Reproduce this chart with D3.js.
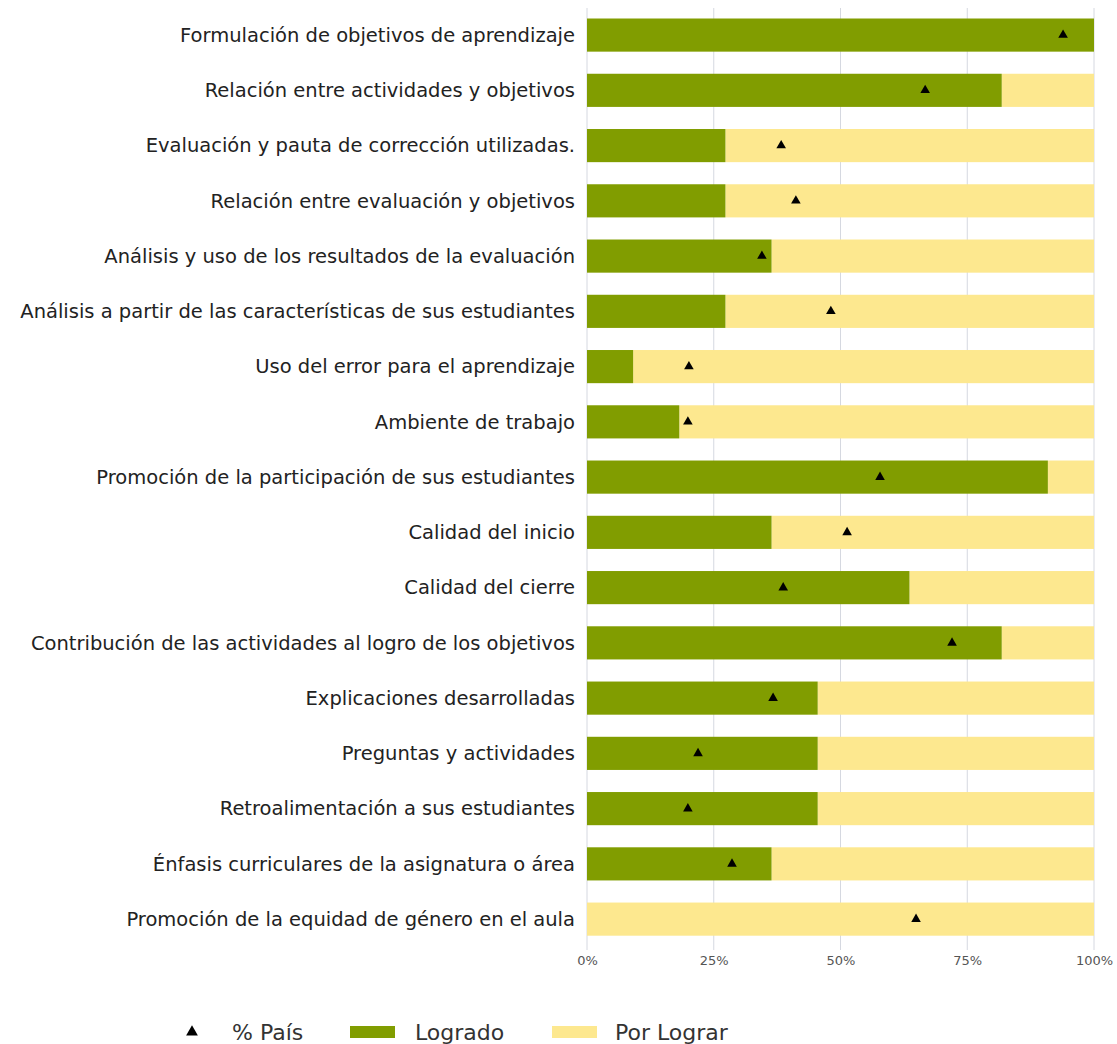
<!DOCTYPE html>
<html lang="es">
<head>
<meta charset="utf-8" />
<title>Logrado / Por Lograr</title>
<style>
    body { margin: 0; background: #fff; }
    text { font-family: "DejaVu Sans", sans-serif; }
</style>
</head>
<body>
<div id="chart"></div>
<script src="https://d3js.org/d3.v7.min.js"></script>
<script>
    const categories = [
        "Formulación de objetivos de aprendizaje",
        "Relación entre actividades y objetivos",
        "Evaluación y pauta de corrección utilizadas.",
        "Relación entre evaluación y objetivos",
        "Análisis y uso de los resultados de la evaluación",
        "Análisis a partir de las características de sus estudiantes",
        "Uso del error para el aprendizaje",
        "Ambiente de trabajo",
        "Promoción de la participación de sus estudiantes",
        "Calidad del inicio",
        "Calidad del cierre",
        "Contribución de las actividades al logro de los objetivos",
        "Explicaciones desarrolladas",
        "Preguntas y actividades",
        "Retroalimentación a sus estudiantes",
        "Énfasis curriculares de la asignatura o área",
        "Promoción de la equidad de género en el aula"
    ];
    const logrado = [100, 81.8, 27.3, 27.3, 36.4, 27.3, 9.1, 18.2, 90.9, 36.4, 63.6, 81.8, 45.5, 45.5, 45.5, 36.4, 0];
    const pais = [93.9, 66.7, 38.3, 41.2, 34.5, 48.1, 20.1, 19.9, 57.8, 51.3, 38.7, 72.0, 36.7, 21.9, 19.9, 28.6, 64.9];
    const tickValues = [0, 25, 50, 75, 100];
    const legendLabels = ["% País", "Logrado", "Por Lograr"];

    const W = 1117, H = 1044;
    const left = 587, right = 1094;
    const green = "#819d00", yellow = "#fde88f";

    const svg = d3.select("#chart").append("svg")
        .attr("width", W).attr("height", H);

    const x = d3.scaleLinear().domain([0, 100]).range([left, right]);
    const y = d3.scaleBand().domain(categories).range([18.5, 935.7]).paddingInner(0.4).paddingOuter(0);

    // grid
    svg.selectAll(".grid").data(tickValues).join("line")
        .attr("x1", d => x(d)).attr("x2", d => x(d))
        .attr("y1", 8).attr("y2", 950)
        .attr("stroke", "#d5d8e0").attr("stroke-width", 1);

    // bars
    svg.selectAll(".rest").data(categories).join("rect")
        .attr("x", (d, i) => x(logrado[i]))
        .attr("y", d => y(d))
        .attr("width", (d, i) => x(100) - x(logrado[i]))
        .attr("height", y.bandwidth())
        .attr("fill", yellow);
    svg.selectAll(".ok").data(categories).join("rect")
        .attr("x", x(0))
        .attr("y", d => y(d))
        .attr("width", (d, i) => x(logrado[i]) - x(0))
        .attr("height", y.bandwidth())
        .attr("fill", green);

    // markers
    const tri = d3.symbol().type(d3.symbolTriangle).size(40);
    svg.selectAll(".mk").data(categories).join("path")
        .attr("d", tri)
        .attr("transform", (d, i) => `translate(${x(pais[i])},${y(d) + y.bandwidth() / 2})`)
        .attr("fill", "#000");

    // y labels
    svg.selectAll(".lab").data(categories).join("text")
        .attr("x", left - 12)
        .attr("y", d => y(d) + y.bandwidth() / 2)
        .attr("dy", "0.35em")
        .attr("text-anchor", "end")
        .attr("font-size", 19.5)
        .attr("fill", "#222")
        .text(d => d);

    // x axis
    const xAxis = svg.append("g")
        .attr("transform", "translate(0,950)")
        .call(d3.axisBottom(x).tickValues(tickValues).tickFormat(d => d + "%").tickSize(0).tickPadding(6));
    xAxis.select(".domain").remove();
    xAxis.selectAll("text").attr("font-size", 13).attr("fill", "#555")
        .attr("font-family", "\"DejaVu Sans\", sans-serif");

    // legend
    const ly = 1032;
    const lg = svg.append("g");
    lg.append("path").attr("d", d3.symbol().type(d3.symbolTriangle).size(60))
        .attr("transform", `translate(192,${ly})`).attr("fill", "#000");
    lg.append("text").attr("x", 232).attr("y", ly).attr("dy", "0.35em")
        .attr("font-size", 22).attr("fill", "#333").text(legendLabels[0]);
    lg.append("rect").attr("x", 350).attr("y", ly - 6).attr("width", 45).attr("height", 12).attr("fill", green);
    lg.append("text").attr("x", 415).attr("y", ly).attr("dy", "0.35em")
        .attr("font-size", 22).attr("fill", "#333").text(legendLabels[1]);
    lg.append("rect").attr("x", 552).attr("y", ly - 6).attr("width", 45).attr("height", 12).attr("fill", yellow);
    lg.append("text").attr("x", 615).attr("y", ly).attr("dy", "0.35em")
        .attr("font-size", 22).attr("fill", "#333").text(legendLabels[2]);
</script>
</body>
</html>
